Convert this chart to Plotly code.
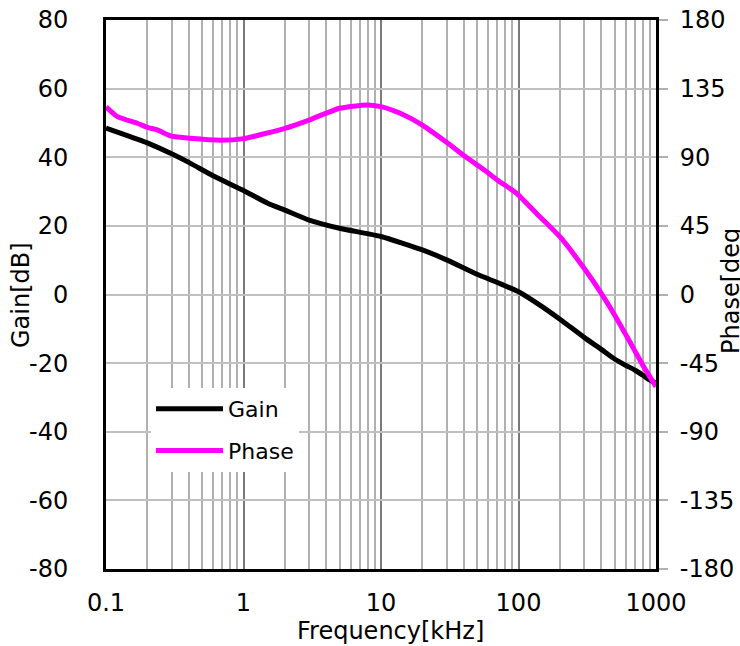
import plotly.graph_objects as go

freq_gain = [0.1, 0.15, 0.2, 0.3, 0.4, 0.6, 1.0, 1.5, 2, 3, 5, 10, 20, 30, 50, 73, 100,
             143, 200, 300, 400, 500, 600, 700, 800, 900, 1000]
gain = [48.5, 46.0, 44.2, 41.0, 38.5, 34.6, 30.3, 26.6, 24.6, 21.7, 19.3, 16.9, 13.0, 10.1,
        5.9, 3.2, 0.8, -3.1, -7.2, -12.5, -16.0, -18.8, -20.6, -22.0, -23.5, -24.9, -25.9]

freq_phase = [0.1, 0.121, 0.169, 0.2, 0.236, 0.3, 0.41, 0.68, 1.0, 2, 3, 5, 7.9, 10, 13.8, 20,
              30, 40, 50, 60, 70, 90, 100, 143, 200, 300, 400, 500, 600, 700, 800, 1000]
phase = [123.0, 116.6, 112.3, 109.6, 107.9, 103.8, 102.4, 101.1, 102.2, 109.0, 114.4, 122.1,
         124.3, 123.2, 118.8, 111.1, 99.8, 91.2, 85.0, 79.8, 75.1, 68.5, 65.2, 51.0, 37.9, 17.2,
         0.8, -13.4, -26.0, -36.8, -46.2, -60.4]

x_ticks = [0.1, 1, 10, 100, 1000]
x_tick_text = ["0.1", "1", "10", "100", "1000"]
gain_ticks = [-80, -60, -40, -20, 0, 20, 40, 60, 80]
gain_tick_text = ["-80", "-60", "-40", "-20", "0", "20", "40", "60", "80"]
phase_ticks = [-180, -135, -90, -45, 0, 45, 90, 135, 180]
phase_tick_text = ["-180", "-135", "-90", "-45", "0", "45", "90", "135", "180"]

FONT = "DejaVu Sans"
FS = 24

fig = go.Figure()
fig.add_trace(go.Scatter(x=freq_gain, y=gain, name="Gain", mode="lines",
                         line=dict(color="black", width=5, shape="spline", smoothing=0.5),
                         legendgroup="g1"))
fig.add_trace(go.Scatter(x=freq_phase, y=phase, name="Phase", mode="lines",
                         line=dict(color="#ff00ff", width=5, shape="spline", smoothing=0.5),
                         yaxis="y2", legendgroup="g2"))

W, H = 740, 646
L, R, T, B = 106, 84, 20, 77
pw, ph = W - L - R, H - T - B

def px(xp):
    return (xp - L) / pw

def py(yp):
    return (H - B - yp) / ph

fig.update_layout(
    width=W, height=H,
    margin=dict(l=L, r=R, t=T, b=B, pad=0, autoexpand=False),
    paper_bgcolor="white", plot_bgcolor="white",
    font=dict(family=FONT, size=FS, color="black"),
    xaxis=dict(type="log", range=[-1, 3], tickmode="array", tickvals=x_ticks,
               ticktext=x_tick_text, showgrid=True, gridcolor="#7a7a7a", gridwidth=1.5,
               minor=dict(dtick="D1", showgrid=True, gridcolor="#b0b0b0", gridwidth=1.5, ticks=""),
               showline=True, linecolor="black", linewidth=3, mirror=True,
               ticks="", ticklabelstandoff=10, zeroline=False, automargin=False),
    yaxis=dict(range=[-80, 80], tickmode="array", tickvals=gain_ticks, ticktext=gain_tick_text,
               showgrid=True, gridcolor="#c0c0c0", gridwidth=1.5,
               showline=True, linecolor="black", linewidth=3, mirror=True,
               ticks="", ticklabelstandoff=30, zeroline=False, automargin=False),
    yaxis2=dict(range=[-180, 180], tickmode="array", tickvals=phase_ticks,
                ticktext=phase_tick_text,
                overlaying="y", side="right", showgrid=False, zeroline=False,
                showline=True, linecolor="black", linewidth=3,
                ticks="outside", ticklen=9, tickwidth=1.5, tickcolor="#b0b0b0",
                ticklabelstandoff=7, automargin=False),
    legend=dict(x=px(151), y=py(388), xanchor="left", yanchor="top",
                bgcolor="white", borderwidth=0, font=dict(family=FONT, size=22),
                itemwidth=67, tracegroupgap=10),
    annotations=[
        dict(text="Frequency[kHz]", xref="paper", yref="paper", x=px(390), y=py(631),
             xanchor="center", yanchor="middle", showarrow=False, font=dict(size=FS)),
        dict(text="Gain[dB]", xref="paper", yref="paper", x=px(21), y=py(295),
             xanchor="center", yanchor="middle", textangle=-90, showarrow=False,
             font=dict(size=FS)),
        dict(text="Phase[deg", xref="paper", yref="paper", x=px(731), y=py(291),
             xanchor="center", yanchor="middle", textangle=-90, showarrow=False,
             font=dict(size=FS)),
    ],
)

fig.write_html("out.html", config={"displayModeBar": False},
               post_script="document.body.style.margin='0';")
